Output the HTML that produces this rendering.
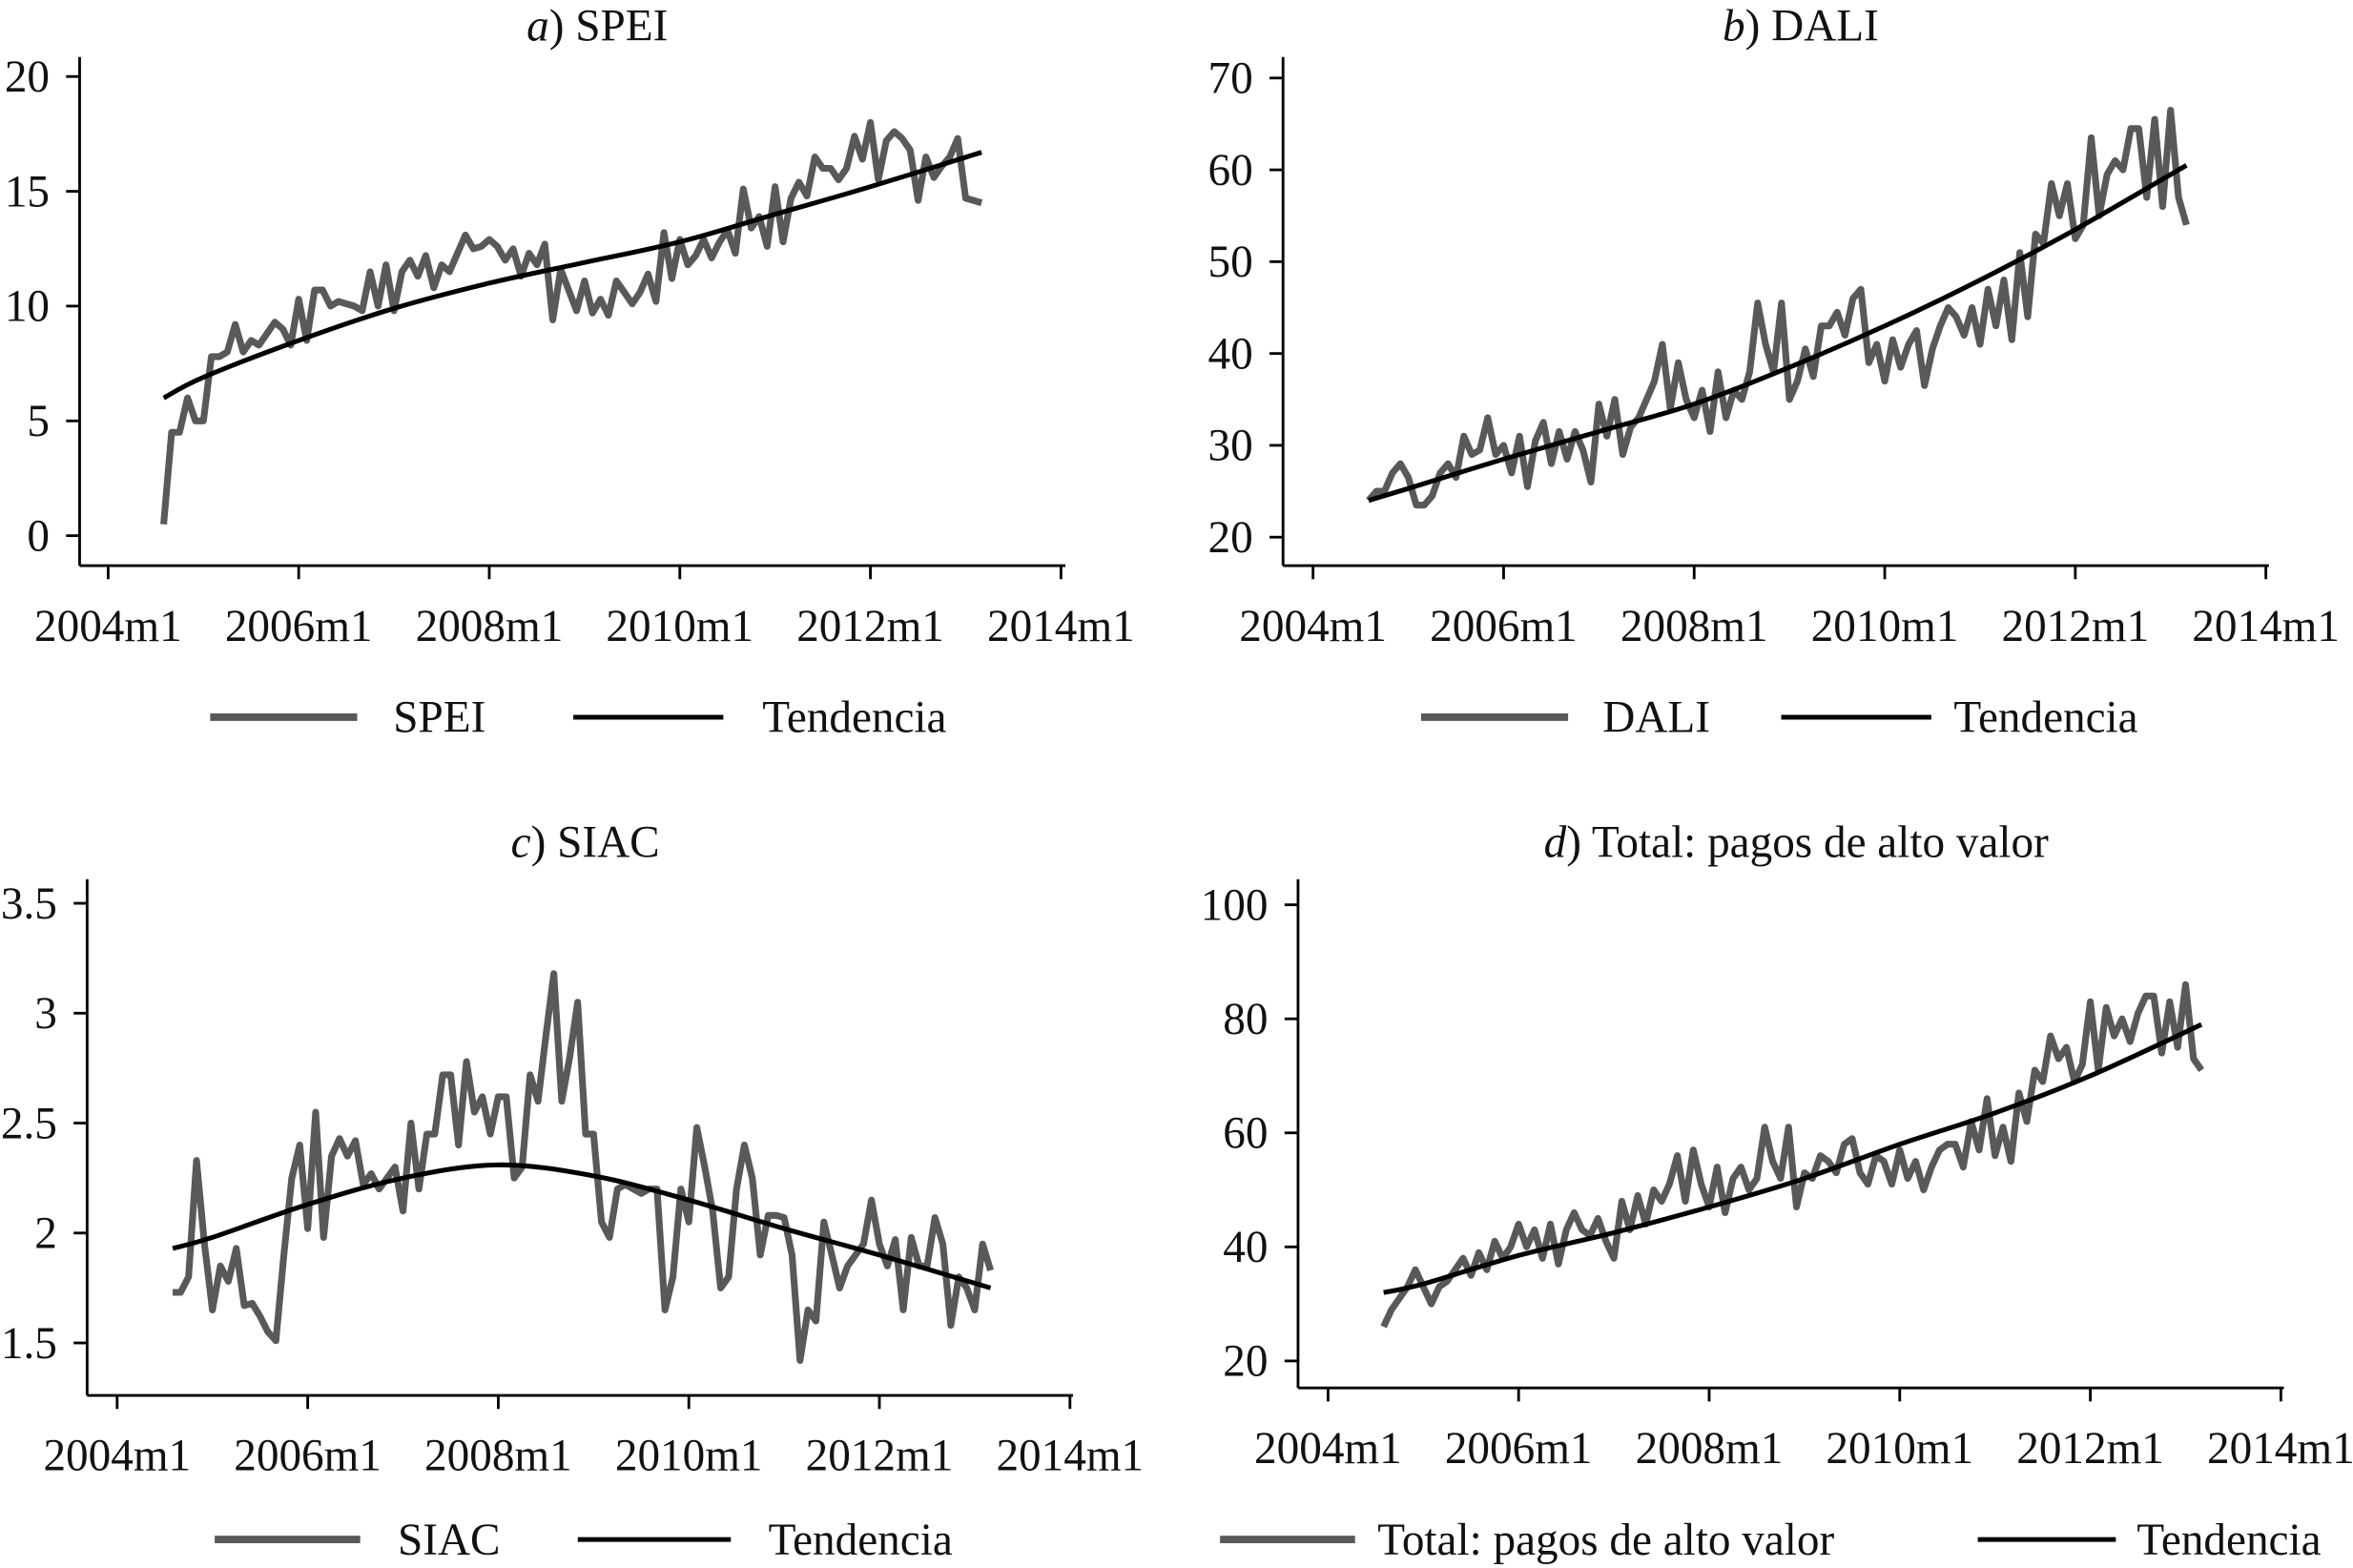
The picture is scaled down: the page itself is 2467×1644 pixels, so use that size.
<!DOCTYPE html>
<html><head><meta charset="utf-8">
<style>
html,body{margin:0;padding:0;background:#fff;}
svg{display:block;}
text{font-family:"Liberation Serif",serif;fill:#111;}
</style></head>
<body>
<svg id="chart" width="2467" height="1644" viewBox="0 0 1568 1045" xmlns="http://www.w3.org/2000/svg"></svg>
<script>
// Data: monthly series from 2004m8 (index 0) onward
const startYear = 2004, startMonth = 8;
const speiValues = [0.5,4.5,4.5,6,5,5,7.8,7.8,8,9.2, 8,8.5,8.3,8.8,9.3,9,8.3,10.3,8.5,10.7, 10.7,10,10.2,10.1,10,9.8,11.5,10,11.8,9.8, 11.5,12,11.3,12.2,10.8,11.8,11.5,12.3,13.1,12.5, 12.6,12.9,12.6,12,12.5,11.3,12.3,11.8,12.7,9.4, 11.6,10.7,9.8,11.1,9.7,10.3,9.6,11.1,10.6,10.1, 10.6,11.4,10.2,13.2,11.2,12.9,11.8,12.2,12.9,12.1, 12.8,13.3,12.3,15.1,13.4,13.9,12.6,15.2,12.8,14.7, 15.4,14.8,16.5,16,16,15.5,16,17.4,16.4,18, 15.5,17.2,17.6,17.3,16.8,14.6,16.5,15.6,16.1,16.5, 17.3,14.7,14.6,14.5];
const daliValues = [24,25,25,27,28,26.5,23.5,23.5,24.5,27, 28,26.5,31,29,29.5,33,29,30,27,31, 25.5,30.5,32.5,28,31.5,28.5,31.5,29.5,26,34.5, 31,35,29,32,33,35,37,41,34,39, 35,33,36,31.5,38,33,36,35,38,45.5, 41,38,45.5,35,37,40.5,37.5,43,43,44.5, 42,46,47,39,41,37,41.5,38.5,41,42.5, 36.5,40.5,43,45,44,42,45,41,47,43, 48,41.5,51,44,53,52,58.5,55,58.5,52.5, 54,63.5,55,59.5,61,60,64.5,64.5,57, 65.5,56,66.5,57,54];
const siacValues = [1.73,1.73,1.8,2.33,1.95,1.65,1.85,1.78,1.93,1.67, 1.68,1.62,1.55,1.51,1.9,2.25,2.4,2.02,2.55,1.98, 2.35,2.43,2.35,2.42,2.22,2.27,2.2,2.25,2.3,2.1, 2.5,2.2,2.45,2.45,2.72,2.72,2.4,2.78,2.55,2.62, 2.45,2.62,2.62,2.25,2.3,2.72,2.6,2.9,3.18,2.6, 2.8,3.05,2.45,2.45,2.05,1.98,2.2,2.22,2.2,2.18, 2.2,2.2,1.65,1.8,2.2,2.05,2.48,2.3,2.1,1.75, 1.8,2.2,2.4,2.25,1.9,2.08,2.08,2.07,1.9,1.42, 1.65,1.6,2.05,1.9,1.75,1.85,1.9,1.95,2.15,1.95, 1.85,1.97,1.65,1.98,1.85,1.85,2.07,1.95,1.58,1.8, 1.75,1.65,1.95,1.83];
const totalValues = [26,29,31,33,36,33,30,33,34,36, 38,35,39,36,41,38,40,44,40,43, 38,44,37,43,46,43,42,45,41,38, 48,43,49,44,50,48,51,56,48,57, 51,47,54,46,52,54,50,52,61,55, 52,61,47,53,52,56,55,53,58,59, 53,51,56,55,51,57,52,55,50,54, 57,58,58,54,62,57,66,56,61,55, 67,62,71,69,77,73,75,69,72,83, 71,82,77,80,76,81,84,84,74,83, 75,86,73,71];
// Trend points: months offset from 2004m1, value
const trendMonths = [7,12,24,36,48,60,72,84,96,110];
const speiTrendValues = [6,6.9,8.5,9.9,11,11.9,12.8,14,15.2,16.7];
const daliTrendValues = [24,25.3,28.5,31.5,34.5,38.5,43,48,53.5,60.5];
const siacTrendValues = [1.93,1.98,2.13,2.25,2.31,2.26,2.15,2.02,1.9,1.75];
const totalTrendValues = [32,33.5,38.5,42.5,47,52,58,63.5,70,79];
const xTickLabels = ["2004m1","2006m1","2008m1","2010m1","2012m1","2014m1"];

const NS = "http://www.w3.org/2000/svg";
const svg = document.getElementById("chart");
function mk(tag, attrs, parent){ const e=document.createElementNS(NS,tag); for(const k in attrs) e.setAttribute(k,attrs[k]); (parent||svg).appendChild(e); return e; }
const FS = 30;

function panel(cfg){
  const g = mk("g",{});
  
  
  const xs = m => cfg.x0 + (m/24)*cfg.xstep;
  const ys = v => cfg.yA + (v-cfg.vA)*(cfg.yB-cfg.yA)/(cfg.vB-cfg.vA);
  const t = mk("text",{x:cfg.titleX,y:cfg.titleY,"text-anchor":"middle","font-size":FS},g);
  
  
  const ti = mk("tspan",{"font-style":"italic"},t); ti.textContent = cfg.letter;
  const tr = mk("tspan",{},t); tr.textContent = ") "+cfg.title;
  const ya = mk("line",{x1:cfg.axX,x2:cfg.axX,y1:cfg.axTop,y2:cfg.axY,stroke:"#000","stroke-width":1.8},g);
  
  
  const xa = mk("line",{x1:cfg.axX,x2:cfg.axRight,y1:cfg.axY,y2:cfg.axY,stroke:"#000","stroke-width":1.8},g);
  
  
  cfg.yTicks.forEach((v,i)=>{
    const y = ys(v);
    mk("line",{x1:cfg.axX-9,x2:cfg.axX,y1:y,y2:y,stroke:"#000","stroke-width":1.8},g);
    const tx = mk("text",{x:cfg.axX-20,y:y+10,"text-anchor":"end","font-size":FS},g);
    tx.textContent = cfg.yTickLabels[i];
    
    
  });
  xTickLabels.forEach((lab,i)=>{
    const x = xs(i*24);
    mk("line",{x1:x,x2:x,y1:cfg.axY,y2:cfg.axY+9,stroke:"#000","stroke-width":1.8},g);
    const tx = mk("text",{x:x,y:cfg.axY+50,"text-anchor":"middle","font-size":FS},g);
    tx.textContent = lab;
    
    
  });
  const off = (startYear-2004)*12 + startMonth-1;
  const pts = cfg.values.map((v,i)=>xs(off+i).toFixed(1)+","+ys(v).toFixed(1)).join(" ");
  const s = mk("polyline",{points:pts,fill:"none",stroke:"#595959","stroke-width":4.5,"stroke-linejoin":"round"},g);
  
  
  const P = trendMonths.map((m,i)=>[xs(m),ys(cfg.trendV[i])]);
  let d = "M"+P[0][0]+","+P[0][1];
  for(let i=0;i<P.length-1;i++){
    const p0=P[Math.max(0,i-1)],p1=P[i],p2=P[i+1],p3=P[Math.min(P.length-1,i+2)];
    d += " C"+(p1[0]+(p2[0]-p0[0])/6)+","+(p1[1]+(p2[1]-p0[1])/6)+" "+(p2[0]-(p3[0]-p1[0])/6)+","+(p2[1]-(p3[1]-p1[1])/6)+" "+p2[0]+","+p2[1];
  }
  const tl = mk("path",{d:d,fill:"none",stroke:"#000","stroke-width":3.2},g);
  
  
  const l1 = mk("line",{x1:cfg.lg[0],x2:cfg.lg[1],y1:cfg.lgY,y2:cfg.lgY,stroke:"#595959","stroke-width":5},g);
  
  
  const lt1 = mk("text",{x:cfg.lg[2],y:cfg.lgY+10,"font-size":FS},g);
  lt1.textContent = cfg.title;
  
  
  const l2 = mk("line",{x1:cfg.lg[3],x2:cfg.lg[4],y1:cfg.lgY,y2:cfg.lgY,stroke:"#000","stroke-width":3.2},g);
  
  
  const lt2 = mk("text",{x:cfg.lg[5],y:cfg.lgY+10,"font-size":FS},g);
  lt2.textContent = "Tendencia";
  
  
}

panel({name:"spei",letter:"a",title:"SPEI",titleX:398,titleY:27,x0:72,xstep:127,axX:53,axTop:38,axY:377,axRight:710,
  vA:0,yA:357,vB:20,yB:51,yTicks:[0,5,10,15,20],yTickLabels:["0","5","10","15","20"],
  values:speiValues,trendV:speiTrendValues,lgY:478,lg:[140,238,262,382,482,508]});
panel({name:"dali",letter:"b",title:"DALI",titleX:1200,titleY:27,x0:875,xstep:127,axX:855,axTop:38,axY:377,axRight:1512,
  vA:20,yA:358,vB:70,yB:52,yTicks:[20,30,40,50,60,70],yTickLabels:["20","30","40","50","60","70"],
  values:daliValues,trendV:daliTrendValues,lgY:478,lg:[947,1045,1068,1187,1287,1302]});
panel({name:"siac",letter:"c",title:"SIAC",titleX:390,titleY:571,x0:78,xstep:127,axX:58,axTop:586,axY:930,axRight:715,
  vA:1.5,yA:895,vB:3.5,yB:602,yTicks:[1.5,2,2.5,3,3.5],yTickLabels:["1.5","2","2.5","3","3.5"],
  values:siacValues,trendV:siacTrendValues,lgY:1026,lg:[143,240,265,385,487,512]});
panel({name:"total",letter:"d",title:"Total: pagos de alto valor",titleX:1197,titleY:571,x0:885,xstep:127,axX:865,axTop:586,axY:925,axRight:1522,
  vA:20,yA:907,vB:100,yB:603,yTicks:[20,40,60,80,100],yTickLabels:["20","40","60","80","100"],
  values:totalValues,trendV:totalTrendValues,lgY:1026,lg:[813,903,918,1318,1410,1424]});
</script>
</body></html>
